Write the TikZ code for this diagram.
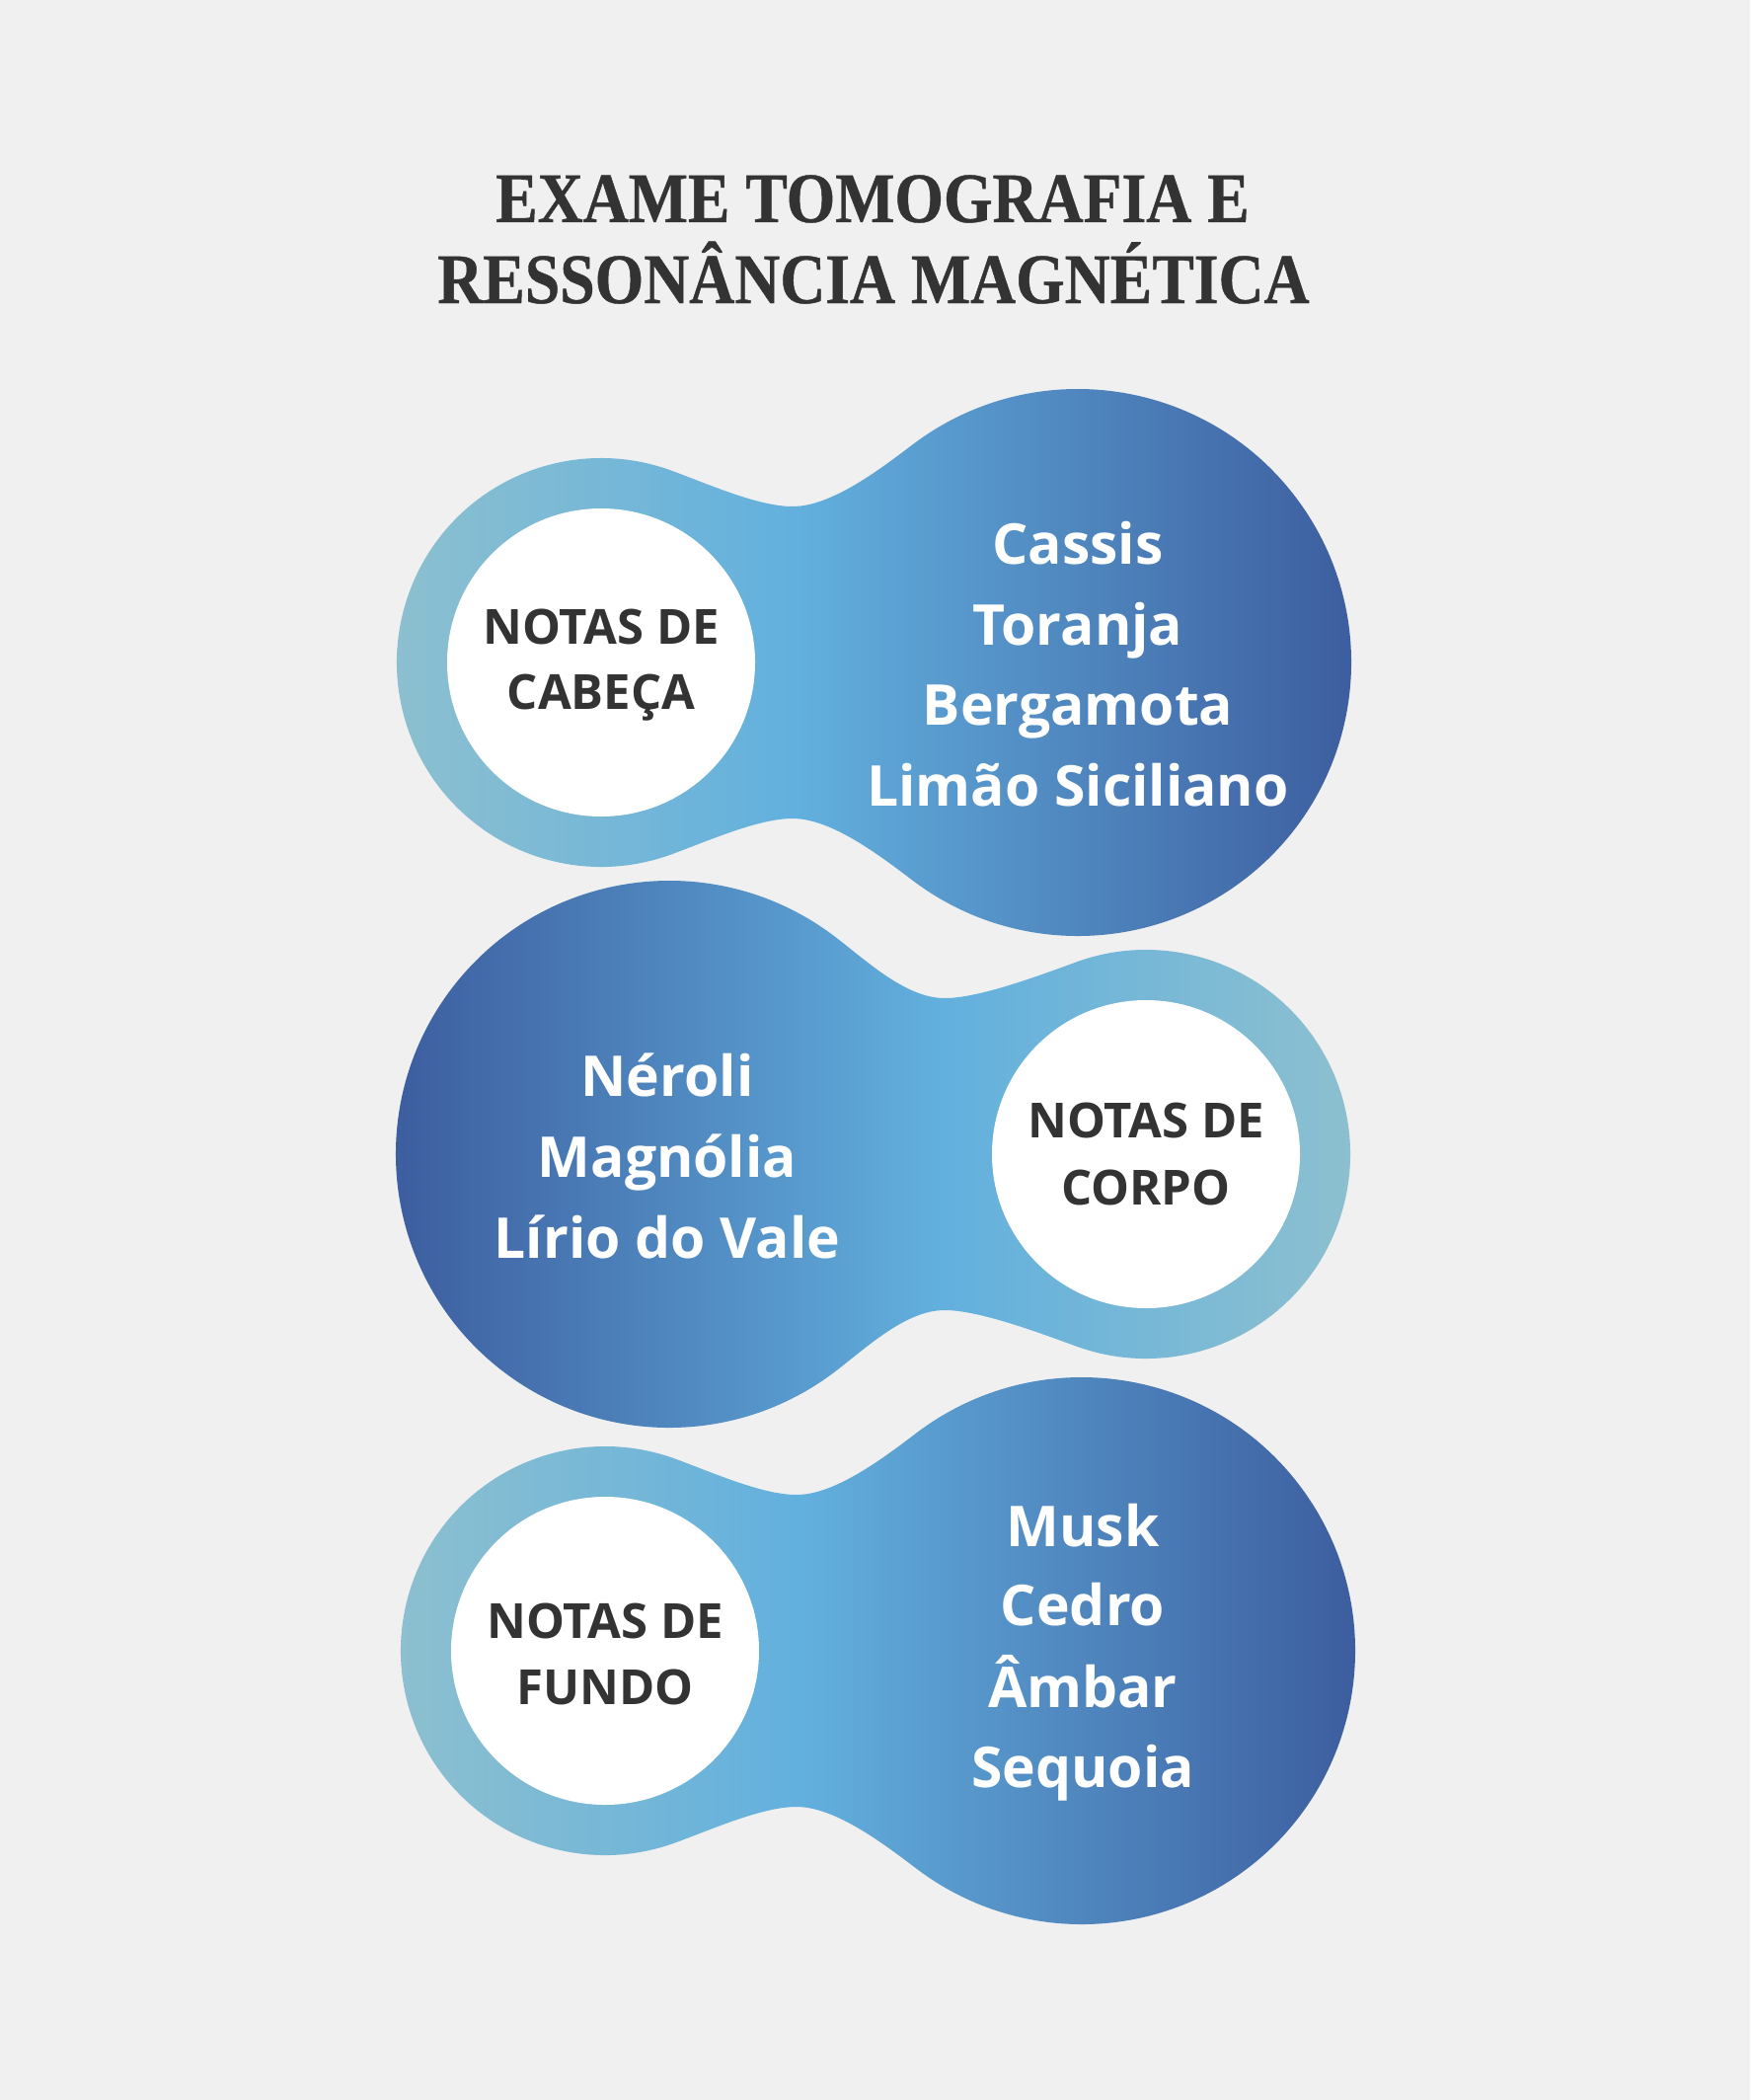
\documentclass[tikz,border=0pt]{standalone}
\usepackage{fontspec}
\newfontfamily\osans{Open Sans}
\newfontfamily\titlefont[FakeStretch=0.885,FakeBold=0.6]{Liberation Serif}
\definecolor{bg}{HTML}{F0F0F0}
\definecolor{lightc}{HTML}{8DC0CF}
\definecolor{skyc}{HTML}{62B0DE}
\definecolor{darkc}{HTML}{3C5C9E}
\definecolor{txtc}{HTML}{333333}
% closed outline of one blob; #1 = 1 (big lobe right) or (-1) (big lobe left); #2 = neck offset
\newcommand{\blobclip}[2]{%
 \clip ({70.8*#1},194.5) .. controls ({108.4*#1},180.8) and ({(159+#2)*#1},158) .. ({(194+#2)*#1},158)
 .. controls ({(234+#2)*#1},158) and ({284.3*#1},197.1) .. ({316.3*#1},221.2)
 arc[start angle={90+37*#1}, end angle={90-217*#1}, radius=277]
 .. controls ({284.3*#1},-197.1) and ({(234+#2)*#1},-158) .. ({(194+#2)*#1},-158)
 .. controls ({(159+#2)*#1},-158) and ({108.4*#1},-180.8) .. ({70.8*#1},-194.5)
 arc[start angle={-90+20*#1}, end angle={-90-200*#1}, radius=207] -- cycle;}
\tikzset{
  hole/.style={circle, fill=white, minimum size=312pt, inner sep=0pt},
  itemtxt/.style={font=\osans\bfseries\fontsize{57}{57}\selectfont, text=white, inner sep=0pt, anchor=base},
  labeltxt/.style={font=\osans\bfseries\fontsize{49}{49}\selectfont, text=txtc, inner sep=0pt, anchor=base},
  titletxt/.style={font=\titlefont\bfseries\fontsize{72}{72}\selectfont, text=txtc, inner sep=0pt, anchor=base}
}
\begin{document}
\begin{tikzpicture}[x=1pt,y=1pt]
\useasboundingbox (0,0) rectangle (1773,-2127);
\fill[bg] (0,0) rectangle (1773,-2127);

% title
\node[titletxt] (t1) at (884,-225) {EXAME TOMOGRAFIA E};
\node[titletxt] (t2) at (885,-307) {RESSONÂNCIA MAGNÉTICA};

% blob 1
\begin{scope}[shift={(609,-671)}]
  \blobclip{1}{0}
  \shade[left color=lightc, right color=skyc] (-215,-290) rectangle (200,290);
  \shade[left color=skyc, right color=darkc] (199.5,-290) rectangle (770,290);
\end{scope}
\node[hole] (h1) at (609,-671) {};
\node[labeltxt] (l1a) at (609,-652) {NOTAS DE};
\node[labeltxt] (l1b) at (609,-718.5) {CABEÇA};
\node[itemtxt] (i1a) at (1092,-571) {Cassis};
\node[itemtxt] (i1b) at (1092,-653) {Toranja};
\node[itemtxt] (i1c) at (1092,-734) {Bergamota};
\node[itemtxt] (i1d) at (1092,-816) {Limão Siciliano};

% blob 2
\begin{scope}[shift={(1161,-1169)}]
  \blobclip{(-1)}{10}
  \shade[left color=darkc, right color=skyc] (-770,-290) rectangle (-207.5,290);
  \shade[left color=skyc, right color=lightc] (-208,-290) rectangle (215,290);
\end{scope}
\node[hole] (h2) at (1161,-1169) {};
\node[labeltxt] (l2a) at (1161,-1152.5) {NOTAS DE};
\node[labeltxt] (l2b) at (1161,-1220) {CORPO};
\node[itemtxt] (i2a) at (676,-1110) {Néroli};
\node[itemtxt] (i2b) at (676,-1192) {Magnólia};
\node[itemtxt] (i2c) at (676,-1274) {Lírio do Vale};

% blob 3
\begin{scope}[shift={(613,-1672)}]
  \blobclip{1}{0}
  \shade[left color=lightc, right color=skyc] (-215,-290) rectangle (200,290);
  \shade[left color=skyc, right color=darkc] (199.5,-290) rectangle (770,290);
\end{scope}
\node[hole] (h3) at (613,-1672) {};
\node[labeltxt] (l3a) at (613,-1659.5) {NOTAS DE};
\node[labeltxt] (l3b) at (613,-1726.5) {FUNDO};
\node[itemtxt] (i3a) at (1097,-1566) {Musk};
\node[itemtxt] (i3b) at (1097,-1646) {Cedro};
\node[itemtxt] (i3c) at (1097,-1729) {Âmbar};
\node[itemtxt] (i3d) at (1097,-1810.5) {Sequoia};
\end{tikzpicture}
\end{document}
